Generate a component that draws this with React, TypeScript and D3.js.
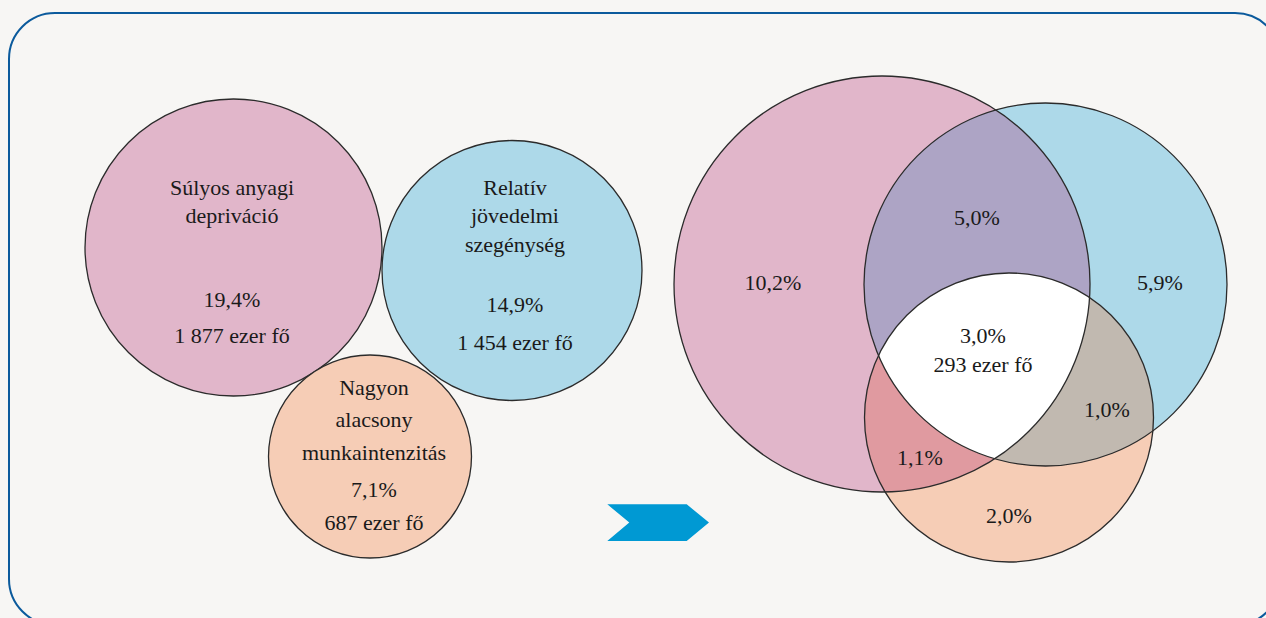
import React from "react";
import * as d3 from "d3";

// ---- data ----
const groupNames = ["Súlyos anyagi depriváció", "Relatív jövedelmi szegénység", "Nagyon alacsony munkaintenzitás"];
const groupLabelLines = [
  ["Súlyos anyagi", "depriváció"],
  ["Relatív", "jövedelmi", "szegénység"],
  ["Nagyon", "alacsony", "munkaintenzitás"],
];
const groupShares = [19.4, 14.9, 7.1];
const groupCounts = ["1 877 ezer fő", "1 454 ezer fő", "687 ezer fő"];
const regionKeys = ["A", "B", "C", "AB", "AC", "BC", "ABC"];
const regionShares = [10.2, 5.9, 2.0, 5.0, 1.1, 1.0, 3.0];
const regionCounts = ["", "", "", "", "", "", "293 ezer fő"];

// ---- styles / layout ----
const W = 1266, H = 618;
const fills = ["#e1b6ca", "#add9e9", "#f6cdb6"];
const overlapFills: Record<string, string> = { AB: "#ada4c5", AC: "#e09aa0", BC: "#c1b9b0", ABC: "#ffffff" };
const font = "Liberation Serif, DejaVu Serif, serif";
const fs = 22;

const leftCircles = [
  { cx: 233.5, cy: 247.5, r: 148.5 },
  { cx: 512, cy: 270.5, r: 130 },
  { cx: 370, cy: 456.5, r: 101.5 },
];
const leftText = [
  { x: 232, lines: [195, 223], pct: 307, cnt: 343 },
  { x: 515, lines: [195, 223, 252], pct: 312, cnt: 350 },
  { x: 374, lines: [395, 427, 460], pct: 497, cnt: 530 },
];
const rightCircles = [
  { cx: 882, cy: 284, r: 208 },
  { cx: 1045.5, cy: 284.5, r: 181.5 },
  { cx: 1009, cy: 417.5, r: 144.5 },
];
const regionPos: Record<string, [number, number]> = {
  A: [773, 290], B: [1160, 290], C: [1009, 523], AB: [977, 225],
  AC: [920, 465], BC: [1107, 417], ABC: [983, 343],
};

const fmt = (v: number) => d3.format(".1f")(v).replace(".", ",") + "%";

export default function App() {
  const stroke = "#2b2b2b";
  const arrow = d3.line()([
    [607.3, 504.3], [686.7, 504.3], [709, 522.6], [686.7, 541], [607.3, 541], [629.3, 522.6],
  ]) + "Z";
  const rc = rightCircles;
  const textStyle = { fontFamily: font, fontSize: fs };
  return (
    <svg width={W} height={H} style={{ position: "absolute", left: 0, top: 0, background: "#f7f6f4" }}>
      <defs>
        {rc.map((c, i) => (
          <clipPath id={`clip${i}`} key={i}>
            <circle cx={c.cx} cy={c.cy} r={c.r} />
          </clipPath>
        ))}
        <clipPath id="clip01" clipPath="url(#clip0)">
          <circle cx={rc[1].cx} cy={rc[1].cy} r={rc[1].r} />
        </clipPath>
      </defs>
      <rect x={0} y={0} width={W} height={H} fill="#f7f6f4" />
      <rect x={9} y={13} width={1272} height={612} rx={46} ry={46} fill="none" stroke="#0b5a9c" strokeWidth={2} />

      {/* left: separate circles */}
      {leftCircles.map((c, i) => (
        <circle key={i} cx={c.cx} cy={c.cy} r={c.r} fill={fills[i]} stroke={stroke} strokeWidth={1.3}>
          <title>{groupNames[i]}</title>
        </circle>
      ))}
      {groupShares.map((s, i) => (
        <g key={"t" + i} style={textStyle} fill="#1a1a1a" textAnchor="middle">
          {groupLabelLines[i].map((l, j) => (
            <text key={j} x={leftText[i].x} y={leftText[i].lines[j]}>{l}</text>
          ))}
          <text x={leftText[i].x} y={leftText[i].pct}>{fmt(s)}</text>
          <text x={leftText[i].x} y={leftText[i].cnt}>{groupCounts[i]}</text>
        </g>
      ))}

      {/* arrow */}
      <path d={arrow} fill="#0099d3" />

      {/* right: venn */}
      {rc.map((c, i) => (
        <circle key={"f" + i} cx={c.cx} cy={c.cy} r={c.r} fill={fills[i]} />
      ))}
      <circle cx={rc[1].cx} cy={rc[1].cy} r={rc[1].r} fill={overlapFills.AB} clipPath="url(#clip0)" />
      <circle cx={rc[2].cx} cy={rc[2].cy} r={rc[2].r} fill={overlapFills.AC} clipPath="url(#clip0)" />
      <circle cx={rc[2].cx} cy={rc[2].cy} r={rc[2].r} fill={overlapFills.BC} clipPath="url(#clip1)" />
      <circle cx={rc[2].cx} cy={rc[2].cy} r={rc[2].r} fill={overlapFills.ABC} clipPath="url(#clip01)" />
      {rc.map((c, i) => (
        <circle key={"s" + i} cx={c.cx} cy={c.cy} r={c.r} fill="none" stroke={stroke} strokeWidth={1.3} />
      ))}
      <g style={textStyle} fill="#1a1a1a" textAnchor="middle">
        {regionKeys.map((k, i) => (
          <g key={k}>
            <text x={regionPos[k][0]} y={regionPos[k][1]}>{fmt(regionShares[i])}</text>
            {regionCounts[i] && (
              <text x={regionPos[k][0]} y={regionPos[k][1] + 29}>{regionCounts[i]}</text>
            )}
          </g>
        ))}
      </g>
    </svg>
  );
}
